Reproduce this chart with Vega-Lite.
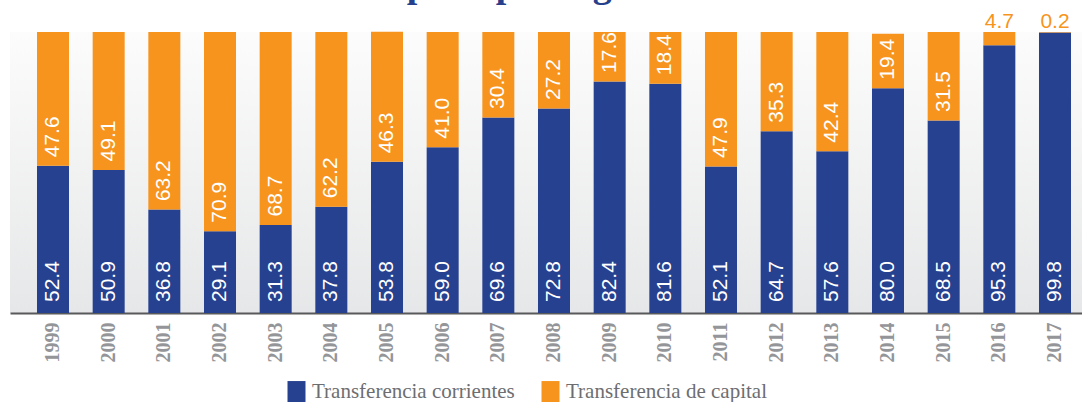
{
  "$schema": "https://vega.github.io/schema/vega-lite/v6.json",
  "autosize": "none",
  "width": 1072,
  "height": 281,
  "padding": {"left": 10, "top": 32, "right": 0, "bottom": 89},
  "background": "white",
  "title": {
    "text": "por tipo de gasto",
    "font": "Liberation Serif",
    "fontSize": 38,
    "fontWeight": "bold",
    "color": "#27408b",
    "baseline": "alphabetic",
    "anchor": "middle",
    "offset": 0,
    "dy": 24,
    "dx": -4
  },
  "config": {
    "view": {
      "stroke": null,
      "fill": {
        "gradient": "linear",
        "x1": 0, "y1": 0, "x2": 0, "y2": 1,
        "stops": [
          {"offset": 0, "color": "#fcfcfc"},
          {"offset": 1, "color": "#e6e7e8"}
        ]
      }
    }
  },
  "data": {
    "values": [
      {"year": "1999", "tipo": "Transferencia corrientes", "valor": 52.4},
      {"year": "1999", "tipo": "Transferencia de capital", "valor": 47.6},
      {"year": "2000", "tipo": "Transferencia corrientes", "valor": 50.9},
      {"year": "2000", "tipo": "Transferencia de capital", "valor": 49.1},
      {"year": "2001", "tipo": "Transferencia corrientes", "valor": 36.8},
      {"year": "2001", "tipo": "Transferencia de capital", "valor": 63.2},
      {"year": "2002", "tipo": "Transferencia corrientes", "valor": 29.1},
      {"year": "2002", "tipo": "Transferencia de capital", "valor": 70.9},
      {"year": "2003", "tipo": "Transferencia corrientes", "valor": 31.3},
      {"year": "2003", "tipo": "Transferencia de capital", "valor": 68.7},
      {"year": "2004", "tipo": "Transferencia corrientes", "valor": 37.8},
      {"year": "2004", "tipo": "Transferencia de capital", "valor": 62.2},
      {"year": "2005", "tipo": "Transferencia corrientes", "valor": 53.8},
      {"year": "2005", "tipo": "Transferencia de capital", "valor": 46.3},
      {"year": "2006", "tipo": "Transferencia corrientes", "valor": 59.0},
      {"year": "2006", "tipo": "Transferencia de capital", "valor": 41.0},
      {"year": "2007", "tipo": "Transferencia corrientes", "valor": 69.6},
      {"year": "2007", "tipo": "Transferencia de capital", "valor": 30.4},
      {"year": "2008", "tipo": "Transferencia corrientes", "valor": 72.8},
      {"year": "2008", "tipo": "Transferencia de capital", "valor": 27.2},
      {"year": "2009", "tipo": "Transferencia corrientes", "valor": 82.4},
      {"year": "2009", "tipo": "Transferencia de capital", "valor": 17.6},
      {"year": "2010", "tipo": "Transferencia corrientes", "valor": 81.6},
      {"year": "2010", "tipo": "Transferencia de capital", "valor": 18.4},
      {"year": "2011", "tipo": "Transferencia corrientes", "valor": 52.1},
      {"year": "2011", "tipo": "Transferencia de capital", "valor": 47.9},
      {"year": "2012", "tipo": "Transferencia corrientes", "valor": 64.7},
      {"year": "2012", "tipo": "Transferencia de capital", "valor": 35.3},
      {"year": "2013", "tipo": "Transferencia corrientes", "valor": 57.6},
      {"year": "2013", "tipo": "Transferencia de capital", "valor": 42.4},
      {"year": "2014", "tipo": "Transferencia corrientes", "valor": 80.0},
      {"year": "2014", "tipo": "Transferencia de capital", "valor": 19.4},
      {"year": "2015", "tipo": "Transferencia corrientes", "valor": 68.5},
      {"year": "2015", "tipo": "Transferencia de capital", "valor": 31.5},
      {"year": "2016", "tipo": "Transferencia corrientes", "valor": 95.3},
      {"year": "2016", "tipo": "Transferencia de capital", "valor": 4.7},
      {"year": "2017", "tipo": "Transferencia corrientes", "valor": 99.8},
      {"year": "2017", "tipo": "Transferencia de capital", "valor": 0.2}
    ]
  },
  "transform": [
    {"stack": "valor", "groupby": ["year"], "sort": [{"field": "tipo", "order": "ascending"}], "as": ["v0", "v1"]}
  ],
  "encoding": {
    "x": {
      "field": "year",
      "type": "nominal",
      "scale": {"range": [0, 1088], "paddingInner": 0.425, "paddingOuter": 0.485},
      "axis": {
        "title": null,
        "labelAngle": -90,
        "labelFont": "Liberation Serif",
        "labelFontSize": 20,
        "labelFontWeight": "bold",
        "labelColor": "#939598",
        "labelPadding": 9,
        "ticks": false,
        "domainColor": "#58595b",
        "domainWidth": 2,
        "grid": false
      }
    }
  },
  "layer": [
    {
      "mark": {"type": "bar"},
      "encoding": {
        "y": {"field": "v0", "type": "quantitative", "scale": {"domain": [0, 100], "nice": false, "zero": true}, "axis": null},
        "y2": {"field": "v1"},
        "color": {
          "field": "tipo",
          "type": "nominal",
          "scale": {"domain": ["Transferencia corrientes", "Transferencia de capital"], "range": ["#26418f", "#f7941d"]},
          "legend": {
            "title": null,
            "orient": "none",
            "direction": "horizontal",
            "legendX": 276,
            "legendY": 349,
            "padding": 0,
            "symbolType": "M-1,-1.2H1V1.2H-1Z",
            "symbolSize": 324,
            "symbolOpacity": 1,
            "symbolStrokeWidth": 0,
            "labelFont": "Liberation Serif",
            "labelFontSize": 21,
            "labelColor": "#6d6e71",
            "labelOffset": 5,
            "columnPadding": 25,
            "labelLimit": 400
          }
        }
      }
    },
    {
      "transform": [{"filter": "datum.tipo === 'Transferencia corrientes'"}],
      "mark": {"type": "text", "angle": -90, "align": "left", "baseline": "middle", "dx": 11, "font": "Liberation Sans", "fontSize": 21, "color": "white"},
      "encoding": {
        "y": {"field": "v0", "type": "quantitative"},
        "text": {"field": "valor", "type": "quantitative", "format": ".1f"}
      }
    },
    {
      "transform": [{"filter": "datum.tipo === 'Transferencia de capital' && datum.valor >= 10"}],
      "mark": {"type": "text", "angle": -90, "align": "left", "baseline": "middle", "dx": 8.5, "font": "Liberation Sans", "fontSize": 21, "color": "white"},
      "encoding": {
        "y": {"field": "v0", "type": "quantitative"},
        "text": {"field": "valor", "type": "quantitative", "format": ".1f"}
      }
    },
    {
      "transform": [{"filter": "datum.tipo === 'Transferencia de capital' && datum.valor < 10"}],
      "mark": {"type": "text", "align": "center", "baseline": "alphabetic", "dy": -4, "font": "Liberation Sans", "fontSize": 21, "color": "#f7941d"},
      "encoding": {
        "y": {"field": "v1", "type": "quantitative"},
        "text": {"field": "valor", "type": "quantitative", "format": ".1f"}
      }
    }
  ]
}
